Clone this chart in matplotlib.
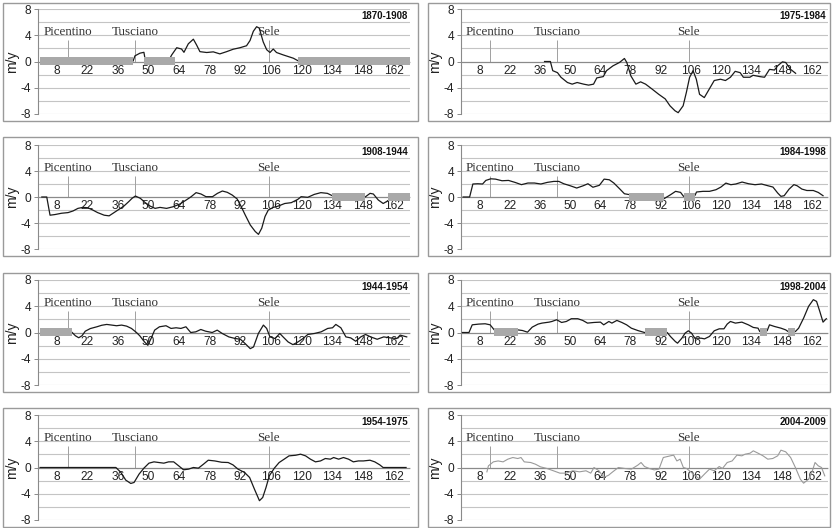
import matplotlib
matplotlib.use("Agg")
import matplotlib.pyplot as plt
from matplotlib.patches import Rectangle
import numpy as np

# ---------------- data ----------------
periods = ["1870-1908", "1908-1944", "1944-1954", "1954-1975",
           "1975-1984", "1984-1998", "1998-2004", "2004-2009"]
x_ticks = [8, 22, 36, 50, 64, 78, 92, 106, 120, 134, 148, 162]
y_ticks = [-8, -4, 0, 4, 8]
rivers = ["Picentino", "Tusciano", "Sele"]
river_pos = [13, 44, 105]

x_1870_1908 = [43.0, 43.8, 46.1, 47.9, 48.5, 59.0, 60.6, 62.9, 65.1, 66.2, 68.2, 70.5, 72.0, 73.5, 76.6,
               79.6, 82.6, 85.7, 88.7, 91.8, 94.8, 96.4, 97.9, 99.4, 100.6, 102.4, 104.0, 105.5, 107.0,
               108.5, 111.6, 116.2, 118.4]
y_1870_1908 = [0.1, 0.86, 1.27, 1.4, 0.25, 0.0, 1.0, 2.1, 1.9, 1.4, 2.7, 3.4, 2.5, 1.5, 1.37,
               1.47, 1.16, 1.5, 1.87, 2.1, 2.4, 3.2, 4.6, 5.3, 5.1, 3.0, 1.8, 1.37, 1.9,
               1.37, 1.0, 0.5, 0.1]
bars_1870_1908 = [(0.4, 42.5), (48.0, 14.0), (118.3, 51.2)]

x_1908_1944 = [1.25, 3.5, 5.0, 7.25, 10.25, 13.25, 15.5, 17.75, 20.0, 22.25, 24.5, 26.75, 29.75, 32.0,
               34.25, 36.5, 38.75, 41.0, 42.5, 44.0, 46.25, 48.5, 50.75, 53.0, 55.25, 58.25, 61.25,
               64.25, 67.25, 69.5, 71.75, 74.0, 76.25, 79.25, 81.5, 83.75, 86.0, 88.25, 90.5, 92.0,
               94.25, 96.5, 98.75, 100.25, 101.75, 103.25, 104.75, 107.0, 109.25, 112.25, 115.25,
               118.25, 119.75, 122.75, 125.75, 128.75, 131.75, 134.0, 149.0, 151.25, 152.75, 155.0,
               157.25, 159.5]
y_1908_1944 = [0.0, 0.0, -2.8, -2.7, -2.5, -2.4, -2.15, -1.75, -1.6, -1.65, -2.0, -2.4, -2.8, -2.9,
               -2.4, -1.9, -1.4, -0.7, -0.2, 0.15, -0.2, -0.87, -1.4, -1.75, -1.6, -1.75, -1.5,
               -1.1, -0.46, 0.05, 0.67, 0.46, 0.05, 0.05, 0.56, 0.92, 0.72, 0.3, -0.3, -1.23,
               -2.8, -4.3, -5.3, -5.75, -4.8, -3.0, -2.0, -1.6, -1.4, -1.0, -0.87,
               -0.36, 0.05, -0.05, 0.4, 0.67, 0.56, 0.2, 0.0, 0.56, 0.46, -0.46,
               -1.0, -0.56]
bars_1908_1944 = [(134.0, 15.0), (159.5, 10.0)]

x_1944_1954 = [15.1, 16.6, 18.1, 19.6, 21.1, 23.4, 26.4, 28.6, 30.9, 33.2, 35.4, 37.7, 40.0, 42.2,
               44.5, 46.0, 48.2, 49.7, 51.3, 52.8, 55.0, 58.0, 60.3, 62.6, 64.8, 67.1, 69.3, 71.6,
               73.9, 76.1, 79.1, 81.4, 83.7, 86.7, 89.7, 92.0, 94.2, 96.5, 98.0, 100.2, 102.5,
               104.0, 105.5, 107.8, 110.0, 111.5, 113.8, 116.0, 118.3, 120.6, 122.8, 125.8, 128.9,
               131.9, 134.1, 135.6, 137.9, 140.2, 142.4, 144.7, 147.0, 149.2, 151.5, 154.5, 157.5,
               160.5, 163.5, 165.0, 168.0]
y_1944_1954 = [0.0, -0.5, -0.8, -0.5, 0.2, 0.6, 0.87, 1.1, 1.23, 1.13, 1.03, 1.13, 0.97, 0.62,
               0.0, -0.5, -1.44, -1.95, -0.82, 0.36, 0.87, 1.03, 0.62, 0.72, 0.62, 0.87, 0.0, 0.1,
               0.46, 0.2, 0.0, 0.36, -0.15, -0.67, -0.92, -1.03, -1.7, -2.46, -2.2, -0.15, 1.13,
               0.62, -0.67, -0.92, -0.15, -0.67, -1.44, -1.85, -1.44, -0.92, -0.3, -0.15, 0.1,
               0.62, 0.72, 1.23, 0.72, -0.67, -0.82, -1.33, -0.67, -0.3, -0.67, -1.03, -0.67,
               -0.82, -0.92, -0.4, -0.67]
bars_1944_1954 = [(0.6, 14.5)]

x_1954_1975 = [0.46, 35.1, 37.4, 39.6, 41.9, 43.4, 45.7, 47.9, 50.2, 52.5, 54.7, 57.0, 59.2, 61.5,
               63.8, 66.0, 68.3, 70.5, 72.8, 75.1, 77.3, 80.3, 83.4, 86.4, 88.6, 90.9, 93.9, 96.2,
               98.4, 100.7, 102.2, 103.7, 105.2, 107.5, 109.7, 112.0, 114.2, 117.3, 119.5, 121.8,
               124.0, 126.3, 128.6, 130.8, 133.1, 134.6, 136.9, 139.1, 141.4, 143.6, 145.9, 148.2,
               151.2, 153.4, 155.7, 157.2, 167.7]
y_1954_1975 = [0.0, 0.0, -0.76, -1.92, -2.43, -2.28, -1.0, -0.1, 0.66, 0.86, 0.76, 0.66, 0.86, 0.86,
               0.25, -0.35, -0.25, 0.0, -0.1, 0.5, 1.11, 1.0, 0.8, 0.76, 0.4, -0.25, -0.76, -1.52,
               -3.29, -5.06, -4.56, -3.04, -1.27, -0.1, 0.76, 1.27, 1.77, 1.87, 2.03, 1.77,
               1.27, 0.86, 1.0, 1.37, 1.27, 1.52, 1.27, 1.52, 1.27, 0.86, 1.0, 1.0,
               1.11, 0.86, 0.4, 0.0, 0.0]
bars_1954_1975 = []

x_1975_1984 = [38.2, 40.9, 42.0, 44.2, 45.8, 48.8, 51.0, 53.3, 56.3, 58.6, 60.9, 62.4, 65.4, 66.9,
               69.9, 72.9, 75.2, 76.3, 78.2, 80.5, 82.7, 85.0, 88.0, 91.1, 94.1, 96.3, 98.6, 100.1,
               102.4, 103.9, 105.4, 107.0, 108.5, 110.0, 112.2, 114.5, 116.8, 119.7, 122.0, 124.3,
               126.5, 128.8, 130.3, 133.3, 134.8, 137.9, 140.1, 142.4, 144.7, 146.2, 148.4, 149.9,
               152.2, 154.5]
y_1975_1984 = [0.0, 0.0, -1.4, -1.7, -2.4, -3.2, -3.45, -3.2, -3.45, -3.6, -3.45, -2.5, -2.3, -1.4,
               -0.66, -0.15, 0.46, -0.15, -2.2, -3.45, -3.1, -3.45, -4.2, -5.0, -5.7, -6.75, -7.5, -7.8,
               -6.75, -4.7, -2.4, -1.4, -2.7, -5.0, -5.5, -4.2, -2.9, -2.7, -2.9, -2.4,
               -1.5, -1.7, -2.4, -2.4, -2.1, -2.3, -2.4, -1.2, -1.3, -0.65, -0.05, -0.15,
               -1.2, -1.8]
bars_1975_1984 = []

x_1984_1998 = [0.5, 3.5, 5.0, 7.25, 9.5, 11.0, 13.3, 15.5, 18.5, 21.5, 24.5, 27.5, 30.5, 33.5, 36.5,
               39.5, 42.5, 44.8, 47.1, 50.1, 53.1, 56.1, 58.3, 60.6, 63.6, 65.8, 68.2, 70.3, 73.1,
               75.2, 77.6, 87.6, 90.6, 93.6, 96.6, 98.9, 101.2, 102.6, 107.9, 108.6, 111.6, 114.6,
               117.6, 119.9, 122.2, 124.5, 126.8, 129.7, 132.7, 135.7, 138.7, 141.7, 144.0, 146.2,
               147.7, 149.2, 151.5, 153.7, 155.2, 157.4, 159.7, 162.7, 165.0, 167.2]
y_1984_1998 = [0.0, 0.0, 2.0, 2.04, 2.0, 2.55, 2.8, 2.75, 2.5, 2.55, 2.25, 1.9, 2.15, 2.15, 2.0,
               2.25, 2.4, 2.4, 2.04, 1.73, 1.38, 1.73, 2.04, 1.5, 1.8, 2.75, 2.65, 2.15, 1.22,
               0.5, 0.36, -0.5, -0.56, -0.25, 0.36, 0.87, 0.71, 0.1, 0.25, 0.77, 0.87, 0.87,
               1.12, 1.53, 2.14, 1.89, 2.0, 2.3, 2.04, 1.89, 2.0, 1.73, 1.53, 0.61,
               0.1, 0.2, 1.22, 1.9, 1.73, 1.22, 1.0, 1.0, 0.7, 0.2]
bars_1984_1998 = [(77.1, 16.5), (102.6, 5.3)]

x_1998_2004 = [0.2, 3.2, 4.7, 7.7, 10.7, 13.0, 14.9, 25.8, 28.0, 30.3, 32.5, 35.2, 37.0, 40.3, 41.6,
               43.8, 46.1, 48.3, 50.6, 53.6, 55.9, 58.1, 61.1, 64.1, 65.6, 68.0, 69.4, 71.7, 74.0,
               76.2, 78.4, 81.4, 84.5, 95.0, 96.5, 98.8, 99.8, 101.8, 103.3, 104.8, 106.3, 107.8,
               110.8, 112.3, 114.6, 116.8, 119.1, 121.3, 122.8, 124.3, 126.6, 129.6, 132.6, 134.9,
               137.1, 137.9, 141.3, 142.4, 144.7, 147.7, 149.9, 151.0, 154.4, 155.9, 158.2, 160.5,
               162.7, 164.2, 165.7, 167.2, 168.7]
y_1998_2004 = [0.0, 0.0, 1.17, 1.28, 1.33, 1.17, 0.4, 0.4, 0.3, 0.05, 0.82, 1.28, 1.43, 1.58, 1.68,
               1.94, 1.53, 1.68, 2.1, 2.1, 1.84, 1.43, 1.53, 1.58, 1.17, 1.68, 1.43, 1.84, 1.53,
               1.17, 0.66, 0.3, 0.0, 0.0, -0.6, -1.38, -1.63, -0.87, -0.1, 0.26, -0.1, -0.87,
               -0.87, -0.97, -0.6, 0.26, 0.56, 0.56, 1.28, 1.68, 1.43, 1.58, 1.17, 0.77,
               0.66, 0.15, 0.26, 1.17, 0.92, 0.66, 0.4, 0.15, 0.15, 0.66, 2.19, 3.98,
               5.0, 4.74, 3.21, 1.58, 2.1]
bars_1998_2004 = [(14.9, 10.9), (84.5, 10.5), (137.9, 3.4), (151.0, 3.4)]

x_2004_2009 = [11.5, 12.2, 14.5, 16.7, 19.0, 21.2, 23.5, 25.8, 27.3, 28.8, 31.8, 34.0, 36.3, 39.3,
               42.3, 45.3, 48.3, 51.3, 54.4, 57.4, 59.6, 61.1, 63.4, 65.6, 67.9, 69.4, 72.4, 75.4,
               78.4, 81.4, 82.9, 84.5, 86.7, 89.0, 91.2, 93.2, 96.5, 98.0, 99.5, 101.0, 102.5, 104.0,
               110.0, 112.3, 114.6, 116.8, 119.1, 120.6, 122.8, 125.1, 127.3, 129.6, 131.1, 133.4,
               134.9, 137.1, 139.4, 141.6, 143.9, 146.2, 147.7, 149.9, 152.2, 154.4, 156.7, 158.2,
               160.5, 162.0, 163.5, 165.0, 166.5, 168.0]
y_2004_2009 = [-0.66, 0.25, 0.86, 1.0, 0.86, 1.27, 1.52, 1.37, 1.52, 0.86, 0.76, 0.5, 0.1, -0.15,
               -0.5, -0.86, -0.86, -0.5, -0.66, -0.5, -0.86, 0.0, -0.5, -1.52, -1.17, -0.76, 0.0, -0.15,
               -0.25, 0.36, 0.76, 0.15, -0.15, -0.36, -0.25, 1.52, 1.78, 1.88, 1.0, 1.27, 0.0, -0.15,
               -1.78, -1.0, -0.25, -0.5, 0.15, -0.15, 0.76, 1.0, 1.88, 1.78, 2.03, 2.18,
               2.54, 2.18, 1.78, 1.27, 1.37, 1.78, 2.64, 2.39, 1.52, 0.0, -1.78, -2.39,
               -1.78, -0.76, 0.76, 0.25, 0.0, -1.27]
bars_2004_2009 = []

series_x = [x_1870_1908, x_1908_1944, x_1944_1954, x_1954_1975,
            x_1975_1984, x_1984_1998, x_1998_2004, x_2004_2009]
series_y = [y_1870_1908, y_1908_1944, y_1944_1954, y_1954_1975,
            y_1975_1984, y_1984_1998, y_1998_2004, y_2004_2009]
series_bars = [bars_1870_1908, bars_1908_1944, bars_1944_1954, bars_1954_1975,
               bars_1975_1984, bars_1984_1998, bars_1998_2004, bars_2004_2009]

# ---------------- layout ----------------
W, H = 833, 528
fig = plt.figure(figsize=(W / 100, H / 100), dpi=100)
fig.patch.set_facecolor("white")

col_plot = [(38, 410), (461, 828)]
col_box = [(3, 418), (428, 830)]
col_label = [19, 442]
row_plot = [(9, 114), (145, 249), (280, 385), (415, 520)]
row_box = [(3, 121), (137, 256), (273, 392), (408, 527)]

sans = ["Liberation Sans", "DejaVu Sans"]
serif = ["Liberation Serif", "DejaVu Serif"]

for i, period in enumerate(periods):
    c, r = divmod(i, 4)
    # box
    bx0, bx1 = col_box[c]
    by0, by1 = row_box[r]
    fig.patches.append(Rectangle((bx0 / W, 1 - by1 / H), (bx1 - bx0) / W, (by1 - by0) / H,
                                 transform=fig.transFigure, fill=False,
                                 edgecolor="#9a9a9a", linewidth=1.0))
    px0, px1 = col_plot[c]
    py0, py1 = row_plot[r]
    ax = fig.add_axes([px0 / W, 1 - py1 / H, (px1 - px0) / W, (py1 - py0) / H])
    ax.set_xlim(-0.5, 169.5)
    ax.set_ylim(-8, 8)
    ax.set_facecolor("none")

    # gridlines
    for g in [-8, -6, -4, -2, 2, 4, 6, 8]:
        ax.axhline(g, color="#c4c4c4", linewidth=0.8, zorder=1)

    for s in ["top", "right"]:
        ax.spines[s].set_visible(False)
    ax.spines["left"].set_color("#8a8a8a")
    ax.spines["left"].set_linewidth(0.8)
    ax.spines["bottom"].set_position(("data", 0))
    ax.spines["bottom"].set_color("#8a8a8a")
    ax.spines["bottom"].set_linestyle((0, (1, 1)))
    ax.spines["bottom"].set_linewidth(0.9)

    ax.set_yticks(y_ticks)
    ax.set_yticklabels([str(v) for v in y_ticks], fontfamily=sans, fontsize=8.6, color="#222222")
    ax.tick_params(axis="y", length=3, width=0.7, color="#8a8a8a", pad=2)
    ax.set_xticks(x_ticks)
    ax.set_xticklabels([str(v) for v in x_ticks], fontfamily=sans, fontsize=8.6, color="#222222")
    ax.tick_params(axis="x", length=0, pad=2.5)
    ax.set_ylabel("m/y", fontfamily=sans, fontsize=10, color="#222222")
    ax.yaxis.set_label_coords((col_label[c] - px0) / (px1 - px0), 0.5)

    # river markers
    ax.vlines(river_pos, 0, 3.3, color="#a0a0a0", linewidth=0.7, zorder=2)
    for name, xp in zip(rivers, river_pos):
        ax.text(xp, 4.5, name, ha="center", va="center", fontfamily=serif,
                fontsize=9.4, color="#333333", zorder=2)

    # gray bars
    if series_bars[i]:
        ax.broken_barh(series_bars[i], (-0.55, 1.2), facecolor="#a9a9a9",
                       edgecolor="none", zorder=4)

    # profile line
    if period == "2004-2009":
        ax.plot(series_x[i], series_y[i], color="#9a9a9a", linewidth=0.8, zorder=3)
    else:
        ax.plot(series_x[i], series_y[i], color="#1a1a1a", linewidth=0.9, zorder=3)

    ax.text(0.995, 6.9, period, transform=ax.get_yaxis_transform(), ha="right",
            va="center", fontfamily=sans, fontsize=7, fontweight="bold", color="#111111")

fig.savefig("out.png", dpi=100)
